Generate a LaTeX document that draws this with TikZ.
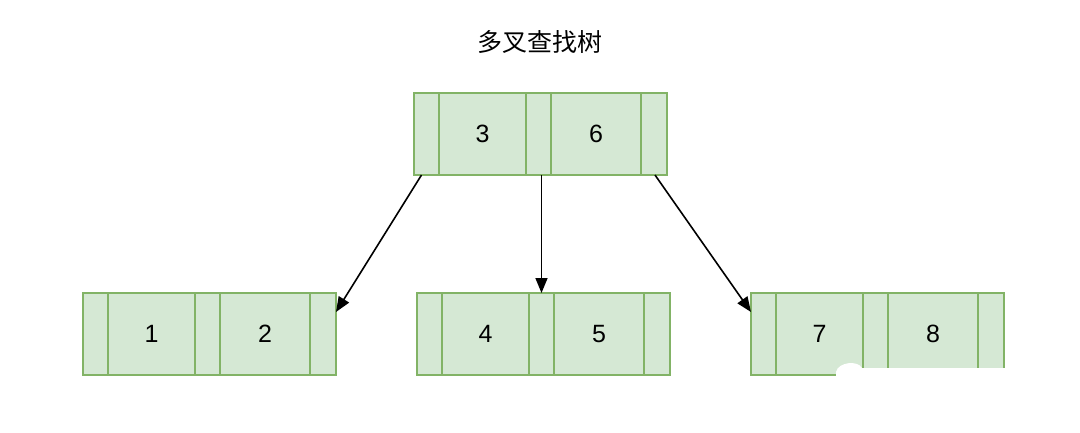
\documentclass[tikz,border=0pt]{standalone}
\usepackage{fontspec}
\setmainfont{Liberation Sans}
\newfontfamily\cjk{Noto Sans CJK SC}
\usetikzlibrary{arrows.meta,calc}
\definecolor{cellfill}{HTML}{D5E8D4}
\definecolor{cellline}{HTML}{82B366}
\tikzset{
  cell/.style={draw=cellline, fill=cellfill, line width=1.8pt, minimum height=82pt, inner sep=0pt, outer sep=0pt, anchor=west, font=\fontsize{25}{28}\selectfont},
  link/.style={line width=1.6pt, -{Triangle[length=15pt,width=12pt]}},
}
% record: name prefix, x left, y center, key1, key2
\newcommand{\recordnode}[5]{%
  \node[cell, minimum width=25pt] (#1a) at (#2,#3) {};
  \node[cell, minimum width=87pt] (#1b) at (#1a.east) {#4};
  \node[cell, minimum width=25pt] (#1c) at (#1b.east) {};
  \node[cell, minimum width=90pt] (#1d) at (#1c.east) {#5};
  \node[cell, minimum width=26pt] (#1e) at (#1d.east) {};
}
\begin{document}
\begin{tikzpicture}[x=1pt,y=-1pt]
\useasboundingbox (0,0) rectangle (1080,432);
\node[font=\cjk\fontsize{25}{28}\selectfont] (title) at (540,42) {多叉查找树};
\recordnode{t}{414}{134}{3}{6}
\recordnode{l}{83}{334}{1}{2}
\recordnode{m}{417}{334}{4}{5}
\recordnode{r}{751}{334}{7}{8}
\coordinate (s1) at ($(ta.south)+(-5pt,0)$);
\coordinate (s2) at (mc.north |- tc.south);
\coordinate (s3) at ($(te.south)+(1pt,0)$);
\coordinate (e1) at ($(le.north east)+(0,-19pt)$);
\coordinate (e3) at ($(ra.north west)+(0,-19pt)$);
\draw[link] (s1) -- (e1);
\draw[link] (s2) -- (mc.north);
\draw[link] (s3) -- (e3);
% white patch covering the lower right corner of the right record
\fill[white] (836,380) -- (836,372) .. controls (838,362) and (858,360) .. (862,368) -- (1010,368) -- (1010,380) -- cycle;
\end{tikzpicture}
\end{document}
